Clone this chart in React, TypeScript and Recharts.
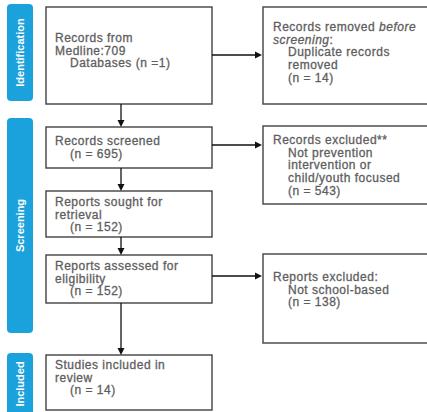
import React from 'react'
import { ComposedChart, XAxis, YAxis, ReferenceArea, ReferenceLine, ReferenceDot } from 'recharts'

// PRISMA flow: stage names, box texts and counts
const stages = ['Identification', 'Screening', 'Included']
const includedCounts = [709, 695, 152, 152, 14]
const excludedCounts = [14, 543, 138]

const leftBoxLines = [
  ['Records from', `Medline:${includedCounts[0]}`, '>Databases (n =1)'],
  ['Records screened', `>(n = ${includedCounts[1]})`],
  ['Reports sought for', 'retrieval', `>(n = ${includedCounts[2]})`],
  ['Reports assessed for', 'eligibility', `>(n = ${includedCounts[3]})`],
  ['Studies included in', 'review', `>(n = ${includedCounts[4]})`],
]

const rightBoxLines = [
  ['Records removed _before_', '_screening_:', '>Duplicate records', '>removed', `>(n = ${excludedCounts[0]})`],
  ['Records excluded**', '>Not prevention', '>intervention or', '>child/youth focused', `>(n = ${excludedCounts[1]})`],
  ['Reports excluded:', '>Not school-based', `>(n = ${excludedCounts[2]})`],
]

// layout (px units of the 427x412 canvas)
const W = 427
const H = 412
const BLUE = '#1ba1db'
const BORDER = '#4d4d4d'
const TEXT = '#5e5e5e'
const FONT = 'Arial, "Liberation Sans", Helvetica, sans-serif'

const stageLayout = [
  { y1: 4, y2: 101 },
  { y1: 118, y2: 333 },
  { y1: 353, y2: 420 },
]
const leftLayout = [
  { y1: 7, y2: 104, first: 35 },
  { y1: 127, y2: 168, first: 18 },
  { y1: 191, y2: 237, first: 15 },
  { y1: 255, y2: 303, first: 15 },
  { y1: 355, y2: 410, first: 14 },
]
const rightLayout = [
  { y1: 7, y2: 104, arrowY: 55, first: 24 },
  { y1: 126, y2: 204, arrowY: 145, first: 18 },
  { y1: 254, y2: 343, arrowY: 276, first: 27 },
]
const LX1 = 46
const LX2 = 212
const RX1 = 263
const RX2 = 432
const ARROW_X = 121

const renderLine = (line: string) => {
  const parts = line.replace(/^>/, '').split('_')
  return parts.map((p, i) => (
    <tspan key={i} fontStyle={i % 2 === 1 ? 'italic' : 'normal'}>
      {p}
    </tspan>
  ))
}

const boxText = (lines: string[], first: number, pad: number) => (props: any) => {
  const { x, y } = props.viewBox
  return (
    <g>
      {lines.map((line, i) => (
        <text
          key={i}
          x={x + pad + (line.startsWith('>') ? 15 : 0)}
          y={y + first + i * 12.7}
          fontSize={12}
          letterSpacing={0.5}
          fontFamily={FONT}
          fill={TEXT}
          stroke={TEXT}
          strokeWidth={0.3}
        >
          {renderLine(line)}
        </text>
      ))}
    </g>
  )
}

const stageText = (name: string) => (props: any) => {
  const { x, y, width, height } = props.viewBox
  const cx = x + width / 2
  const cy = name === 'Included' ? y + 31 : y + height / 2
  return (
    <text
      x={cx}
      y={cy}
      transform={`rotate(-90 ${cx} ${cy})`}
      textAnchor="middle"
      dominantBaseline="central"
      fontSize={11}
      fontWeight="bold"
      fontFamily={FONT}
      fill="#ffffff"
    >
      {name}
    </text>
  )
}

const roundedRect = (props: any) => (
  <rect x={props.x} y={props.y} width={props.width} height={props.height} rx={4} fill={BLUE} />
)

const arrowDown = (props: any) => (
  <polygon points={`${props.cx},${props.cy} ${props.cx - 3.5},${props.cy - 7} ${props.cx + 3.5},${props.cy - 7}`} fill="#111" />
)
const arrowRight = (props: any) => (
  <polygon points={`${props.cx},${props.cy} ${props.cx - 7},${props.cy - 3.5} ${props.cx - 7},${props.cy + 3.5}`} fill="#111" />
)

export default function App() {
  return (
    <div style={{ position: 'absolute', left: 0, top: 0, background: '#fff' }}>
      <ComposedChart width={W} height={H} data={[]} margin={{ top: 0, right: 0, bottom: 0, left: 0 }}>
        <XAxis type="number" dataKey="x" domain={[0, W]} allowDataOverflow hide />
        <YAxis type="number" domain={[0, H]} allowDataOverflow reversed hide />

        {stages.map((name, i) => (
          <ReferenceArea
            key={name}
            x1={7}
            x2={33}
            y1={stageLayout[i].y1}
            y2={stageLayout[i].y2}
            ifOverflow="visible"
            shape={roundedRect}
            label={{ content: stageText(name) }}
          />
        ))}

        {leftBoxLines.map((lines, i) => (
          <ReferenceArea
            key={`l${i}`}
            x1={LX1}
            x2={LX2}
            y1={leftLayout[i].y1}
            y2={leftLayout[i].y2}
            ifOverflow="visible"
            fill="#fff"
            fillOpacity={1}
            stroke={BORDER}
            strokeWidth={1.5}
            label={{ content: boxText(lines, leftLayout[i].first, 9) }}
          />
        ))}

        {rightBoxLines.map((lines, i) => (
          <ReferenceArea
            key={`r${i}`}
            x1={RX1}
            x2={RX2}
            y1={rightLayout[i].y1}
            y2={rightLayout[i].y2}
            ifOverflow="visible"
            fill="#fff"
            fillOpacity={1}
            stroke={BORDER}
            strokeWidth={1.5}
            label={{ content: boxText(lines, rightLayout[i].first, 10) }}
          />
        ))}

        {leftLayout.slice(0, -1).map((b, i) => (
          <ReferenceLine
            key={`v${i}`}
            segment={[
              { x: ARROW_X, y: b.y2 },
              { x: ARROW_X, y: leftLayout[i + 1].y1 - 6 },
            ]}
            stroke="#111"
            strokeWidth={1.3}
            ifOverflow="visible"
          />
        ))}
        {leftLayout.slice(1).map((b, i) => (
          <ReferenceDot key={`vd${i}`} x={ARROW_X} y={b.y1} ifOverflow="visible" shape={arrowDown} />
        ))}

        {rightLayout.map((b, i) => (
          <ReferenceLine
            key={`h${i}`}
            segment={[
              { x: LX2, y: b.arrowY },
              { x: RX1 - 6, y: b.arrowY },
            ]}
            stroke="#111"
            strokeWidth={1.3}
            ifOverflow="visible"
          />
        ))}
        {rightLayout.map((b, i) => (
          <ReferenceDot key={`hd${i}`} x={RX1 - 1} y={b.arrowY} ifOverflow="visible" shape={arrowRight} />
        ))}
      </ComposedChart>
    </div>
  )
}
